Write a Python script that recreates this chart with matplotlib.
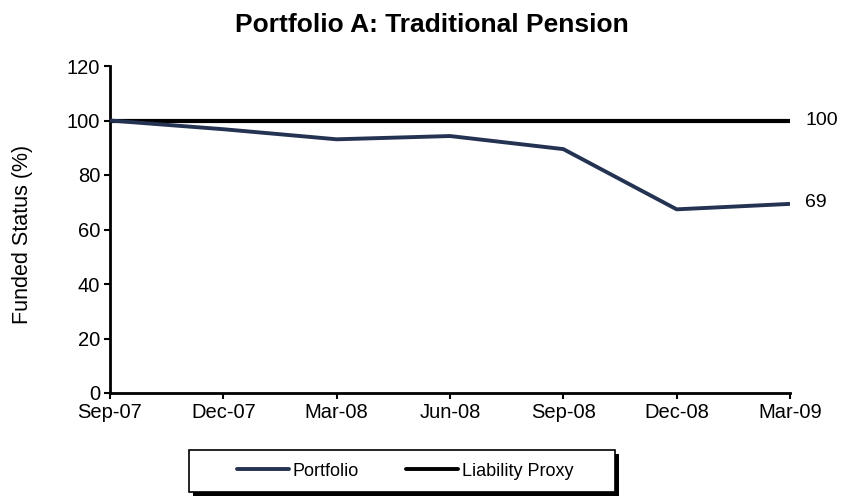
import matplotlib
matplotlib.use("Agg")
import matplotlib.pyplot as plt
from matplotlib.patches import Rectangle

plt.rcParams['font.family'] = ['Liberation Sans', 'DejaVu Sans']

dates = ["Sep-07", "Dec-07", "Mar-08", "Jun-08", "Sep-08", "Dec-08", "Mar-09"]
portfolio = [100.0, 96.8, 93.1, 94.3, 89.5, 67.4, 69.4]
liability = [100, 100, 100, 100, 100, 100, 100]
yticks = [0, 20, 40, 60, 80, 100, 120]

W, H = 844, 496
fig = plt.figure(figsize=(W / 100, H / 100), dpi=100)
ax = fig.add_axes([110 / W, 1 - 393 / H, 680 / W, 327 / H])
x = list(range(len(dates)))

lp, = ax.plot(x, portfolio, color='#243352', lw=2.8, solid_capstyle='butt', label='Portfolio', zorder=3)
ll, = ax.plot(x, liability, color='black', lw=3.0, solid_capstyle='butt', label='Liability Proxy', zorder=2)

ax.set_xlim(0, len(dates) - 1)
ax.set_ylim(0, 120)
ax.set_xticks(x)
ax.set_xticklabels(dates, fontsize=14.5)
ax.set_yticks(yticks)
ax.set_yticklabels([str(v) for v in yticks], fontsize=14.5)
ax.tick_params(axis='both', direction='out', length=4, width=1.5, pad=3)
for s in ['top', 'right']:
    ax.spines[s].set_visible(False)
for s in ['left', 'bottom']:
    ax.spines[s].set_linewidth(2)
ax.set_ylabel('Funded Status (%)', fontsize=15.5)
ax.yaxis.set_label_coords(-0.113, 0.485)
fig.text(431.5 / W, 1 - 25 / H, 'Portfolio A: Traditional Pension', fontsize=19,
         fontweight='bold', ha='center', va='center')

ax.annotate(f"{liability[-1]:.0f}", xy=(x[-1], liability[-1]), xytext=(11, 0),
            textcoords='offset points', va='center', ha='left', fontsize=14, annotation_clip=False)
ax.annotate(f"{portfolio[-1]:.0f}", xy=(x[-1], portfolio[-1]), xytext=(11, 1),
            textcoords='offset points', va='center', ha='left', fontsize=14, annotation_clip=False)

# legend box with shadow
bx, by, bw, bh = 189, 450, 426, 42
fig.patches.append(Rectangle(((bx + 4) / W, 1 - (by + bh + 4) / H), bw / W, bh / H,
                             transform=fig.transFigure, facecolor='black', edgecolor='none', zorder=1))
fig.patches.append(Rectangle((bx / W, 1 - (by + bh) / H), bw / W, bh / H,
                             transform=fig.transFigure, facecolor='white', edgecolor='black',
                             lw=1.2, zorder=2))
leg = fig.legend(handles=[lp, ll], loc='center', bbox_to_anchor=(405 / W, 1 - 471 / H), ncol=2,
                 fontsize=13, frameon=False, handlelength=2.9, columnspacing=2.6,
                 handletextpad=0.2, borderpad=0.3)
for h in leg.legend_handles:
    h.set_linewidth(2.8)
    h.set_solid_capstyle('round')
leg.set_zorder(5)

fig.savefig('out.png', dpi=100)
